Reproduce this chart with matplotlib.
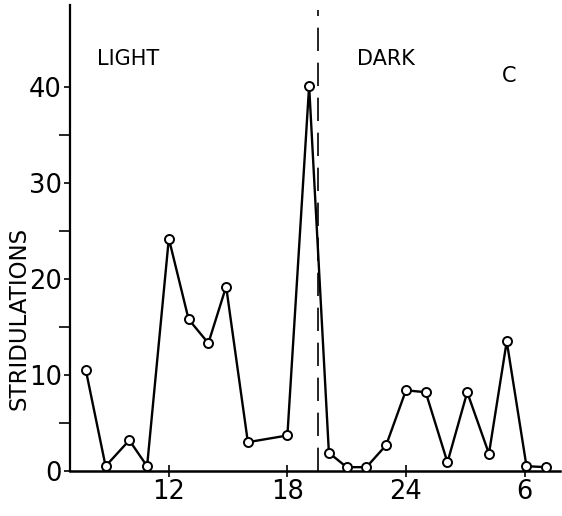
import numpy as np
import matplotlib
matplotlib.use("Agg")
import matplotlib.pyplot as plt

plt.rcParams["font.family"] = ["DejaVu Sans"]

# ============================================================
# Data
# ============================================================

hours = [7.8, 8.8, 10.0, 10.9, 12.0, 13.0, 14.0, 14.9, 16.0, 18.0,
         19.1, 20.1, 21.0, 22.0, 23.0, 24.0, 25.0, 26.1, 27.1, 28.2,
         29.1, 30.1, 31.1]
stridulations = [10.5, 0.5, 3.2, 0.5, 24.2, 15.8, 13.3, 19.2, 3.0, 3.7,
                 40.1, 1.9, 0.4, 0.4, 2.7, 8.4, 8.2, 0.9, 8.2, 1.8,
                 13.5, 0.5, 0.4]

lights_off = 19.55

x_ticks = [12, 18, 24, 30]
x_tick_labels = ["12", "18", "24", "6"]
y_ticks = [0, 10, 20, 30, 40]
y_minor = [5, 15, 25, 35]

# ============================================================
# Plot
# ============================================================

fig = plt.figure(figsize=(5.62, 5.16), dpi=100)
ax = fig.add_axes([0.1246, 0.0872, 0.872, 0.903])

ax.plot(hours, stridulations, color="black", linewidth=1.7,
        marker="o", markersize=6.5, markerfacecolor="white",
        markeredgecolor="black", markeredgewidth=1.4, zorder=3)

ax.axvline(lights_off, ymin=0, ymax=0.99, color="black", linewidth=1.2,
           linestyle=(0, (14, 7)))

ax.text(8.35, 42.9, "LIGHT", fontsize=15, va="center", ha="left")
ax.text(21.5, 42.9, "DARK", fontsize=15, va="center", ha="left")
ax.text(29.2, 41.1, "C", fontsize=15, va="center", ha="center")

ax.text(-0.105, 0.328, "STRIDULATIONS", transform=ax.transAxes,
        rotation=90, ha="center", va="center", fontsize=16.5)

ax.set_xlim(7, 31.8)
ax.set_ylim(0, 48.5)

ax.set_xticks(x_ticks)
ax.set_xticklabels(x_tick_labels)
ax.set_yticks(y_ticks)
ax.set_yticks(y_minor, minor=True)

ax.tick_params(axis="both", which="major", labelsize=18.5, length=4,
               width=1.2, pad=2)
ax.tick_params(axis="y", which="minor", length=8, width=1.2)
ax.tick_params(axis="x", direction="inout", length=8)

for side in ["top", "right"]:
    ax.spines[side].set_visible(False)
ax.spines["left"].set_linewidth(1.6)
ax.spines["bottom"].set_linewidth(1.8)

fig.savefig("out.png", dpi=100)
